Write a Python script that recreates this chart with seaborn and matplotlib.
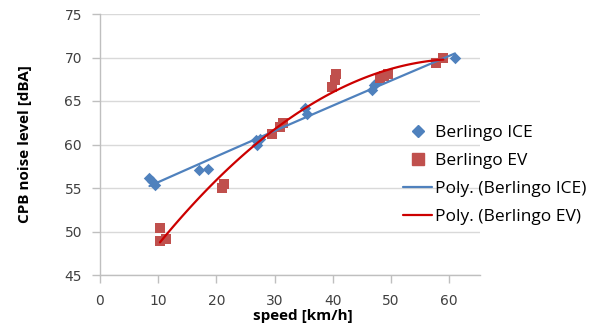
import matplotlib
matplotlib.use("Agg")
import matplotlib.pyplot as plt
from matplotlib.lines import Line2D
import seaborn as sns
import pandas as pd

# Data
ice_speed = [8.5, 9.0, 9.5, 17.0, 18.5, 26.8, 27.0, 27.5, 35.2, 35.5, 46.7, 47.0, 47.5, 61.0]
ice_noise = [56.1, 55.8, 55.4, 57.1, 57.2, 60.5, 59.9, 60.6, 64.2, 63.5, 66.3, 66.8, 67.1, 69.9]
ev_speed = [10.3, 10.3, 11.3, 20.9, 21.3, 29.5, 31.0, 31.5, 39.8, 40.4, 40.5, 48.2, 48.8, 49.5, 57.8, 59.0]
ev_noise = [50.4, 48.9, 49.1, 55.0, 55.5, 61.2, 62.0, 62.5, 66.6, 67.4, 68.1, 67.6, 67.9, 68.1, 69.4, 69.9]
x_ticks = [0, 10, 20, 30, 40, 50, 60]
y_ticks = [45, 50, 55, 60, 65, 70, 75]
labels = ["Berlingo ICE", "Berlingo EV", "Poly. (Berlingo ICE)", "Poly. (Berlingo EV)"]

ice = pd.DataFrame({"speed": ice_speed, "noise": ice_noise})
ev = pd.DataFrame({"speed": ev_speed, "noise": ev_noise})

sns.set_theme(style="white")
plt.rcParams["font.family"] = ["Open Sans", "DejaVu Sans"]

BLUE = "#4F81BD"
RED_M = "#C0504D"
RED_L = "#CC0000"
TXT = "#404040"

fig = plt.figure(figsize=(5.93, 3.26), dpi=100)
ax = fig.add_axes([100 / 593, 1 - 275 / 326, 380 / 593, 261 / 326])

sns.scatterplot(data=ice, x="speed", y="noise", marker="D", s=34, color=BLUE,
                edgecolor=BLUE, linewidth=0, ax=ax, zorder=3)
sns.scatterplot(data=ev, x="speed", y="noise", marker="s", s=58, color=RED_M,
                edgecolor=RED_M, linewidth=0, ax=ax, zorder=3)
sns.regplot(data=ice, x="speed", y="noise", order=2, ci=None, scatter=False,
            line_kws={"color": BLUE, "lw": 1.6, "zorder": 4}, ax=ax)
sns.regplot(data=ev, x="speed", y="noise", order=2, ci=None, scatter=False,
            line_kws={"color": RED_L, "lw": 1.6, "zorder": 4}, ax=ax)

ax.set_xlim(0, 65.3)
ax.set_ylim(45, 75)
ax.set_xticks(x_ticks)
ax.set_yticks(y_ticks)
ax.grid(axis="y", color="#D9D9D9", lw=1)
ax.grid(axis="x", visible=False)
for s in ["top", "right"]:
    ax.spines[s].set_visible(False)
for s in ["left", "bottom"]:
    ax.spines[s].set_color("#BFBFBF")
    ax.spines[s].set_linewidth(1)
ax.tick_params(axis="both", which="major", length=6, width=1, color="#BFBFBF",
               labelsize=10, labelcolor=TXT, direction="out", bottom=True, left=True)
ax.tick_params(axis="x", pad=8)
ax.tick_params(axis="y", pad=7)
for lab in ax.get_xticklabels() + ax.get_yticklabels():
    lab.set_family(["DejaVu Sans"])

ax.set_xlabel("speed [km/h]", fontsize=11, fontweight="bold", color="black")
ax.set_ylabel("CPB noise level [dBA]", fontsize=11, fontweight="bold", color="black")
ax.xaxis.set_label_coords((303 - 100) / 380, -0.13)
ax.yaxis.set_label_coords(-0.18, 0.5)

handles = [
    Line2D([], [], marker="D", color=BLUE, ls="none", markersize=6),
    Line2D([], [], marker="s", color=RED_M, ls="none", markersize=8),
    Line2D([], [], color=BLUE, lw=1.6),
    Line2D([], [], color=RED_L, lw=1.6),
]
fig.legend(handles, labels, loc="upper left", bbox_to_anchor=(396 / 593, 1 - 118 / 326),
           frameon=False, fontsize=12.5, handlelength=1.7, handletextpad=0.12,
           labelspacing=0.68, labelcolor="black", borderaxespad=0)

fig.savefig("out.png", dpi=100)
